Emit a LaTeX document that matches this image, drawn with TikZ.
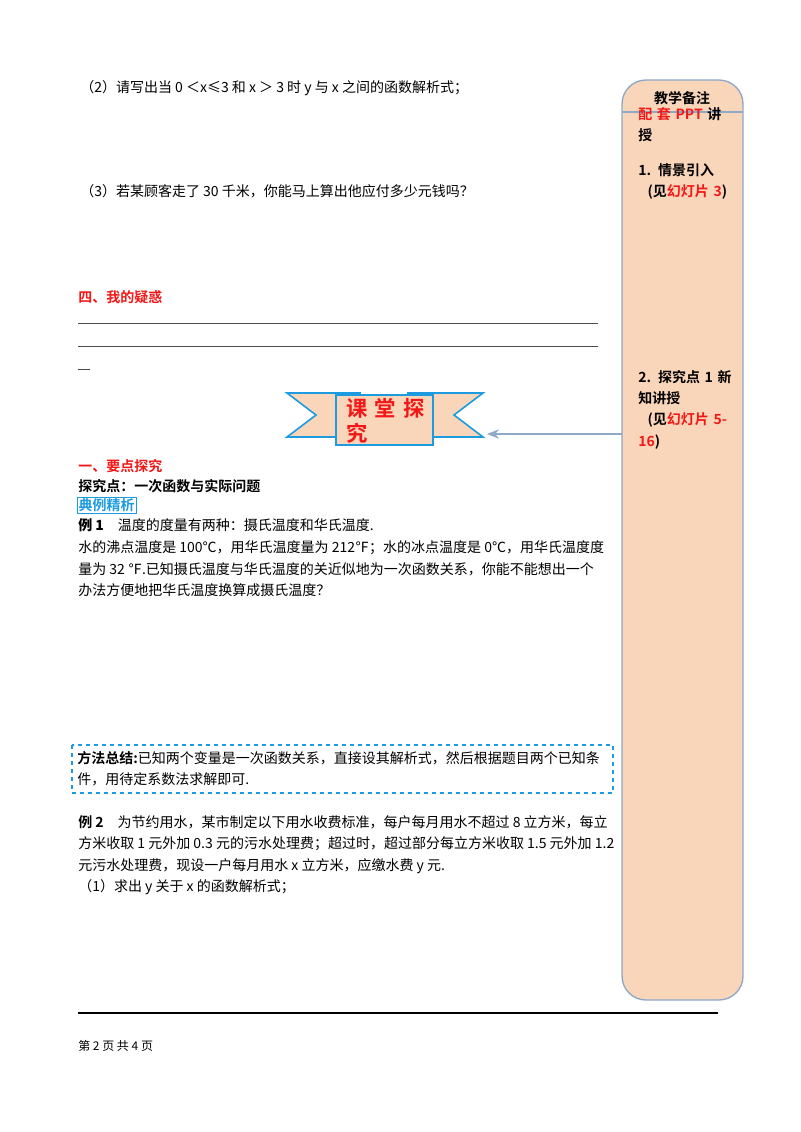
\documentclass[tikz,border=0pt]{standalone}
\usepackage{fontspec}
\setmainfont{Liberation Serif}
\newfontfamily\cjk{Noto Sans CJK SC}
\newfontfamily\cjkb{Noto Sans CJK SC Bold}
\usetikzlibrary{arrows.meta}
\definecolor{peach}{HTML}{F9D5B9}
\definecolor{edge}{HTML}{8EA8C8}
\definecolor{rd}{HTML}{F21818}
\definecolor{bl}{HTML}{1C9BE0}
\tikzset{t/.style={anchor=west,inner sep=0pt,font=\fontsize{10.5}{13}\selectfont\cjk},
 side/.style={anchor=north west,inner sep=0pt,font=\fontsize{10.5}{16}\selectfont\cjkb,align=left,text width=88pt}}
\begin{document}
\begin{tikzpicture}[x=0.75pt,y=-0.75pt]
\useasboundingbox (0,0) rectangle (800,1132);
\fill[white] (0,0) rectangle (800,1132);
\node[t] (l2) at (80,88) {（2）请写出当 0 ＜x≤3 和 x ＞ 3 时 y 与 x 之间的函数解析式；};
\node[t] (l3) at (80,191) {（3）若某顾客走了 30 千米，你能马上算出他应付多少元钱吗？};
\node[t,text=rd,font=\fontsize{10.5}{13}\selectfont\cjkb] (h4) at (78,297) {四、我的疑惑};
\draw[black!70] (78,323) -- (598,323);
\draw[black!70] (78,346) -- (598,346);
\draw[black!70] (78,369) -- (90,369);
% banner
\begin{scope}[draw=bl,line width=1.2pt,fill=peach]
\filldraw (287,393) -- (360,393) -- (360,437) -- (287,437) -- (316,415) -- cycle;
\filldraw (483,393) -- (408,393) -- (408,437) -- (483,437) -- (454,415) -- cycle;
\filldraw (336,395) rectangle (433,445);
\end{scope}
\node[anchor=north west,inner sep=0pt,text=rd,font=\fontsize{16}{19}\selectfont\cjkb,align=left,text width=70pt] (ban) at (346,398) {课 堂 探\\究};
% side panel
\draw[edge,fill=peach,line width=1pt,rounded corners=18pt] (622,80) rectangle (743,1000);
\draw[edge,line width=1pt] (622,112) -- (743,112);
\node[anchor=center,inner sep=0pt,font=\fontsize{10.5}{13}\selectfont\cjkb] (note) at (682,98) {教学备注};
\node[side] (s1) at (638,107) {\textcolor{rd}{配 套 PPT} 讲\\授\\[10pt]1. 情景引入\\\ \ (见\textcolor{rd}{幻灯片 3})};
\node[side] (s2) at (638,370) {2. 探究点 1 新\\知讲授\\\ \ (见\textcolor{rd}{幻灯片 5-}\\\textcolor{rd}{16})};
\coordinate (ae) at (622,434);
\draw[edge,line width=1pt,-{Stealth[length=9pt,width=7pt]}] (ae) -- (487,434);
\node[t,text=rd,font=\fontsize{10.5}{13}\selectfont\cjkb] (h1) at (78,466) {一、要点探究};
\node[t,font=\fontsize{10.5}{13}\selectfont\cjkb] (tj) at (78,486) {探究点：一次函数与实际问题};
\node[t,text=bl,font=\fontsize{10.5}{13}\selectfont\cjkb,draw=bl,inner sep=1pt] (dl) at (77,505) {典例精析};
\node[t] (e1) at (78,525) {\textbf{例 1}\quad 温度的度量有两种：摄氏温度和华氏温度.};
\node[t] (e1b) at (78,548) {水的沸点温度是 100℃，用华氏温度量为 212℉；水的冰点温度是 0℃，用华氏温度度};
\node[t] (e1c) at (78,569) {量为 32 ℉.已知摄氏温度与华氏温度的关近似地为一次函数关系，你能不能想出一个};
\node[t] (e1d) at (78,590) {办法方便地把华氏温度换算成摄氏温度？};
\draw[bl,dashed,line width=0.9pt] (72,745) rectangle (613,793);
\node[t] (m1) at (77,758) {{\cjkb 方法总结:}已知两个变量是一次函数关系，直接设其解析式，然后根据题目两个已知条};
\node[t] (m2) at (77,779) {件，用待定系数法求解即可.};
\node[t] (e2) at (78,822) {{\cjkb 例 2}\quad 为节约用水，某市制定以下用水收费标准，每户每月用水不超过 8 立方米，每立};
\node[t] (e2b) at (78,844) {方米收取 1 元外加 0.3 元的污水处理费；超过时，超过部分每立方米收取 1.5 元外加 1.2};
\node[t] (e2c) at (78,866) {元污水处理费，现设一户每月用水 x 立方米，应缴水费 y 元.};
\node[t] (e2d) at (78,887) {（1）求出 y 关于 x 的函数解析式；};
\draw[black,line width=1pt] (78,1013) -- (718,1013);
\node[t,font=\fontsize{9}{11}\selectfont\cjk] (pg) at (78,1046) {第 2 页 共 4 页};
\end{tikzpicture}
\end{document}
